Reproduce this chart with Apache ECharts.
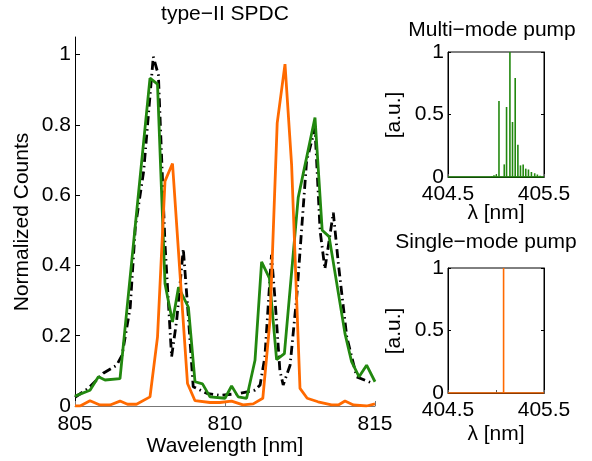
<!DOCTYPE html>
<html>
<head>
<meta charset="utf-8">
<script src="https://cdn.jsdelivr.net/npm/echarts@6/dist/echarts.min.js"></script>
<style>
html,body{margin:0;padding:0;background:#fff;}
#chart{width:592px;height:461px;}
</style>
</head>
<body>
<div id="chart"></div>
<script>
// ---- data ----
const mainTitle = 'type\u2212II SPDC';
const mainXName = 'Wavelength [nm]';
const mainYName = 'Normalized Counts';
const mainXTicks = [805, 810, 815];
const mainYTicks = [0, 0.2, 0.4, 0.6, 0.8, 1];

// black dash-dot curve
const blackX = [805.0, 805.44, 805.94, 806.39, 806.57, 806.84, 807.01, 807.29, 807.61, 807.78, 808.0, 808.22, 808.39, 808.61, 808.78, 808.94, 809.39, 809.83, 810.5, 811.0, 811.17, 811.33, 811.55, 811.67, 811.83, 811.94, 812.17, 812.39, 812.72, 813.0, 813.17, 813.33, 813.61, 813.78, 814.06, 814.39, 814.94];
const blackY = [0.025, 0.05, 0.093, 0.116, 0.145, 0.28, 0.508, 0.669, 0.994, 0.942, 0.461, 0.14, 0.244, 0.447, 0.253, 0.055, 0.036, 0.03, 0.036, 0.045, 0.06, 0.14, 0.43, 0.3, 0.1, 0.06, 0.116, 0.31, 0.697, 0.79, 0.499, 0.39, 0.55, 0.404, 0.196, 0.083, 0.064];

// green curve (multi-mode pump)
const greenX = [805.0, 805.5, 805.78, 806.0, 806.5, 807.5, 807.75, 808.0, 808.25, 808.45, 808.78, 809.0, 809.25, 809.5, 810.0, 810.22, 810.44, 810.72, 811.0, 811.22, 811.48, 811.72, 811.98, 812.44, 813.0, 813.24, 813.47, 814.0, 814.22, 814.47, 814.72, 815.0];
const greenY = [0.028, 0.045, 0.083, 0.074, 0.078, 0.933, 0.916, 0.348, 0.239, 0.338, 0.281, 0.069, 0.063, 0.026, 0.022, 0.057, 0.026, 0.022, 0.13, 0.41, 0.364, 0.132, 0.149, 0.593, 0.821, 0.5, 0.482, 0.206, 0.126, 0.083, 0.116, 0.069];

// orange curve (single-mode pump)
const orangeX = [805.0, 805.17, 805.5, 805.83, 806.17, 806.5, 806.75, 807.05, 807.5, 807.75, 808.0, 808.25, 808.5, 808.75, 809.0, 809.5, 809.83, 810.22, 810.6, 810.94, 811.26, 811.5, 811.74, 812.0, 812.22, 812.5, 812.74, 813.1, 813.55, 813.78, 814.0, 814.28, 814.72, 815.0];
const orangeY = [0.0, 0.0, 0.015, 0.003, 0.003, 0.014, 0.005, 0.005, 0.026, 0.196, 0.64, 0.69, 0.376, 0.064, 0.015, 0.01, 0.01, 0.014, 0.003, 0.006, 0.022, 0.244, 0.805, 0.973, 0.687, 0.05, 0.022, 0.012, 0.003, 0.003, 0.014, 0.003, 0.0, 0.006];

// inset: multi-mode pump spectrum
const multiTitle = 'Multi\u2212mode pump';
const multiX = [404.955, 404.979, 405.003, 405.031, 405.086, 405.110, 405.145, 405.172, 405.200, 405.228, 405.255, 405.283, 405.310, 405.338, 405.369, 405.403, 405.431, 405.459];
const multiY = [0.005, 0.015, 0.02, 0.608, 0.101, 0.56, 1.0, 0.44, 0.792, 0.259, 0.093, 0.101, 0.067, 0.06, 0.04, 0.03, 0.02, 0.01];

// inset: single-mode pump spectrum
const singleTitle = 'Single\u2212mode pump';
const singleX = [405.079];
const singleY = [1.0];

const insetRange = [404.5, 405.5];
const insetXTicks = [404.5, 405.5];
const insetXMinor = [404.5, 405, 405.5];
const insetYTicks = [0, 0.5, 1];
const insetXName = '\u03bb [nm]';
const insetYName = '[a.u.]';

// ---- build ----
const FONT = '"Liberation Sans", Arial, Helvetica, sans-serif';
const FS = 21;
const GREEN = '#22880f';
const ORANGE = '#ff6a00';
const zip = (xs, ys) => xs.map((x, i) => [x, ys[i]]);

const chart = echarts.init(document.getElementById('chart'), null, {renderer: 'canvas'});

const labelStyle = {color: '#000', fontSize: FS, fontFamily: FONT};

function insetAxes(gi) {
  return {
    x: {
      type: 'value', gridIndex: gi, min: insetRange[0], max: insetRange[1], interval: 0.5,
      axisLine: {show: true, lineStyle: {color: '#000', width: 1}},
      axisTick: {show: true, inside: true, length: 3, customValues: insetXMinor, lineStyle: {color: '#555'}},
      axisLabel: Object.assign({margin: 7, customValues: insetXTicks, formatter: v => v.toFixed(1)}, labelStyle),
      splitLine: {show: false}
    },
    y: {
      type: 'value', gridIndex: gi, min: 0, max: 1, interval: 0.5,
      axisLine: {show: true, lineStyle: {color: '#000', width: 1}},
      axisTick: {show: true, inside: true, length: 3, customValues: insetYTicks, lineStyle: {color: '#000'}},
      axisLabel: Object.assign({margin: 4, customValues: insetYTicks}, labelStyle),
      splitLine: {show: false}
    },
    yr: {
      type: 'value', gridIndex: gi, min: 0, max: 1, interval: 0.5, position: 'right',
      axisLine: {show: true, lineStyle: {color: '#000', width: 1}},
      axisTick: {show: true, inside: true, length: 3, customValues: insetYTicks, lineStyle: {color: '#000'}},
      axisLabel: {show: false},
      splitLine: {show: false}
    }
  };
}
const in1 = insetAxes(1), in2 = insetAxes(2);

function txt(text, x, y, rot) {
  return {
    type: 'text', x: x, y: y, rotation: rot || 0,
    style: {text: text, fontSize: FS, fontFamily: FONT, fill: '#000', align: 'center', verticalAlign: 'middle'}
  };
}

const option = {
  animation: false,
  backgroundColor: '#fff',
  grid: [
    {left: 75, top: 37, width: 300, height: 369, show: false},
    {left: 448, top: 52, width: 96, height: 125, show: true, borderColor: '#000', borderWidth: 1, backgroundColor: '#fff'},
    {left: 448, top: 268, width: 96, height: 125, show: true, borderColor: '#000', borderWidth: 1, backgroundColor: '#fff'}
  ],
  xAxis: [
    {
      type: 'value', gridIndex: 0, min: 805, max: 815, interval: 5,
      axisLine: {show: true, onZero: false, lineStyle: {color: '#777', width: 1}},
      axisTick: {show: true, inside: true, length: 5, customValues: mainXTicks, lineStyle: {color: '#777'}},
      axisLabel: Object.assign({margin: 8, customValues: mainXTicks}, labelStyle),
      splitLine: {show: false}
    },
    in1.x, in2.x
  ],
  yAxis: [
    {
      type: 'value', gridIndex: 0, min: 0, max: 1.05, interval: 0.2,
      axisLine: {show: true, lineStyle: {color: '#000', width: 1}},
      axisTick: {show: true, inside: true, length: 5, customValues: mainYTicks, lineStyle: {color: '#000'}},
      axisLabel: Object.assign({margin: 4, customValues: mainYTicks}, labelStyle),
      splitLine: {show: false}
    },
    in1.y, in2.y, in1.yr, in2.yr
  ],
  series: [
    {
      type: 'line', xAxisIndex: 0, yAxisIndex: 0, data: zip(blackX, blackY),
      showSymbol: false, symbol: 'none', z: 2,
      lineStyle: {color: '#000', width: 2.8, type: [9, 4, 1.5, 4]}
    },
    {
      type: 'line', xAxisIndex: 0, yAxisIndex: 0, data: zip(greenX, greenY),
      showSymbol: false, symbol: 'none', z: 3,
      lineStyle: {color: GREEN, width: 2.8}
    },
    {
      type: 'line', xAxisIndex: 0, yAxisIndex: 0, data: zip(orangeX, orangeY),
      showSymbol: false, symbol: 'none', z: 4,
      lineStyle: {color: ORANGE, width: 2.8}
    },
    {
      type: 'bar', xAxisIndex: 1, yAxisIndex: 1, data: zip(multiX, multiY),
      barWidth: 1.6, itemStyle: {color: GREEN}, z: 3
    },
    {
      type: 'line', xAxisIndex: 1, yAxisIndex: 1, data: insetRange.map(x => [x, 0]),
      showSymbol: false, symbol: 'none', lineStyle: {color: GREEN, width: 1.5}, z: 4
    },
    {
      type: 'bar', xAxisIndex: 2, yAxisIndex: 2, data: zip(singleX, singleY),
      barWidth: 1.6, itemStyle: {color: ORANGE}, z: 3
    },
    {
      type: 'line', xAxisIndex: 2, yAxisIndex: 2, data: insetRange.map(x => [x, 0]),
      showSymbol: false, symbol: 'none', lineStyle: {color: ORANGE, width: 1.5}, z: 4
    }
  ],
  graphic: [
    txt(mainTitle, 225, 14),
    txt(mainYName, 22, 222, Math.PI / 2),
    txt(mainXName, 225, 446),
    txt(multiTitle, 492, 30),
    txt(insetYName, 394, 115, Math.PI / 2),
    txt(insetXName, 496, 213),
    txt(singleTitle, 486, 242),
    txt(insetYName, 394, 331, Math.PI / 2),
    txt(insetXName, 496, 434)
  ]
};
chart.setOption(option);
</script>
</body>
</html>
